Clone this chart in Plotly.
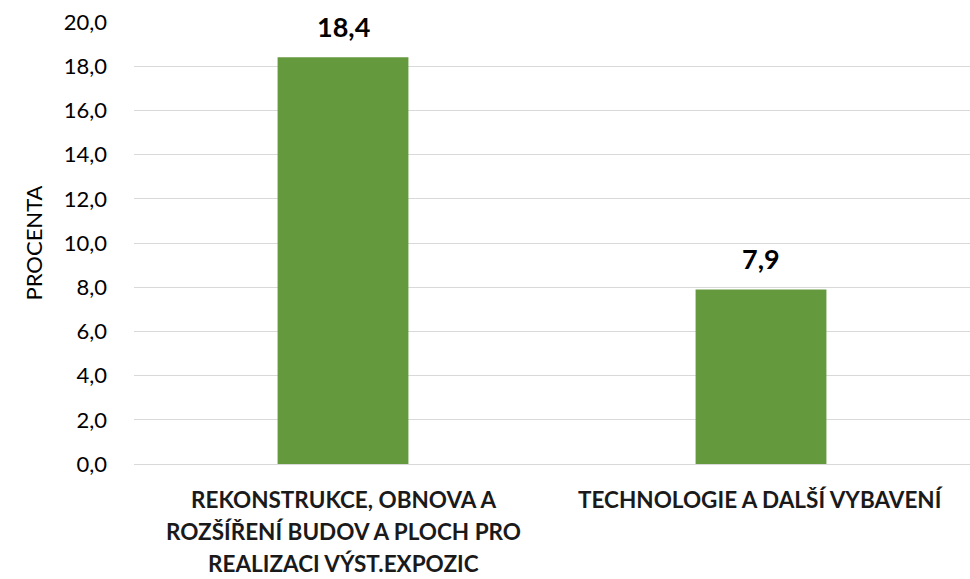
import plotly.graph_objects as go

categories = ["REKONSTRUKCE, OBNOVA A ROZŠÍŘENÍ BUDOV A PLOCH PRO REALIZACI VÝST.EXPOZIC",
              "TECHNOLOGIE A DALŠÍ VYBAVENÍ"]
category_lines = [["REKONSTRUKCE, OBNOVA A", "ROZŠÍŘENÍ BUDOV A PLOCH PRO", "REALIZACI VÝST.EXPOZIC"],
                  ["TECHNOLOGIE A DALŠÍ VYBAVENÍ"]]
values = [18.4, 7.9]
y_ticks = [0, 2, 4, 6, 8, 10, 12, 14, 16, 18, 20]

FONT = "Lato, Open Sans, sans-serif"
GREEN = "#64993e"

fig = go.Figure()
fig.add_trace(go.Bar(x=categories, y=values, marker=dict(color=GREEN, line=dict(width=0)),
                     hoverinfo="skip"))

# value labels above bars
for cat, v in zip(categories, values):
    fig.add_annotation(x=cat, y=v, text=f"<b>{v:.1f}</b>".replace(".", ","), showarrow=False,
                       yanchor="middle", yshift=31, font=dict(family=FONT, size=27, color="#000"))

# category labels under axis, one line each
for cat, lines in zip(categories, category_lines):
    for i, line in enumerate(lines):
        fig.add_annotation(x=cat, y=0, yref="y", text=f"<b>{line}</b>", showarrow=False,
                           yanchor="middle", yshift=-35 - i * 32,
                           font=dict(family=FONT, size=22.5, color="#1a1a1a"))

fig.update_layout(
    width=970, height=579,
    margin=dict(l=134, r=0, t=22, b=115),
    paper_bgcolor="white", plot_bgcolor="white",
    separators=",.",
    bargap=0.687,
    showlegend=False,
    font=dict(family=FONT, color="#000"),
)
fig.update_xaxes(showticklabels=False, showgrid=False, showline=False, zeroline=False,
                 automargin=False)
fig.update_yaxes(range=[0, 20], tickvals=y_ticks, tickformat=".1f", showgrid=True,
                 gridcolor="#d9d9d9", gridwidth=1.3, zeroline=True, zerolinecolor="#d9d9d9",
                 zerolinewidth=1.3, showline=False, ticks="", ticklabelstandoff=26,
                 automargin=False,
                 tickfont=dict(family=FONT, size=22, color="#000"),
                 title=dict(text="PROCENTA", font=dict(family=FONT, size=22, color="#000"),
                            standoff=15))

# drop the default 8px body margin so the figure fills the window exactly
fig.write_html("out.html", config={"displayModeBar": False},
               post_script="document.body.style.margin = '0';")
